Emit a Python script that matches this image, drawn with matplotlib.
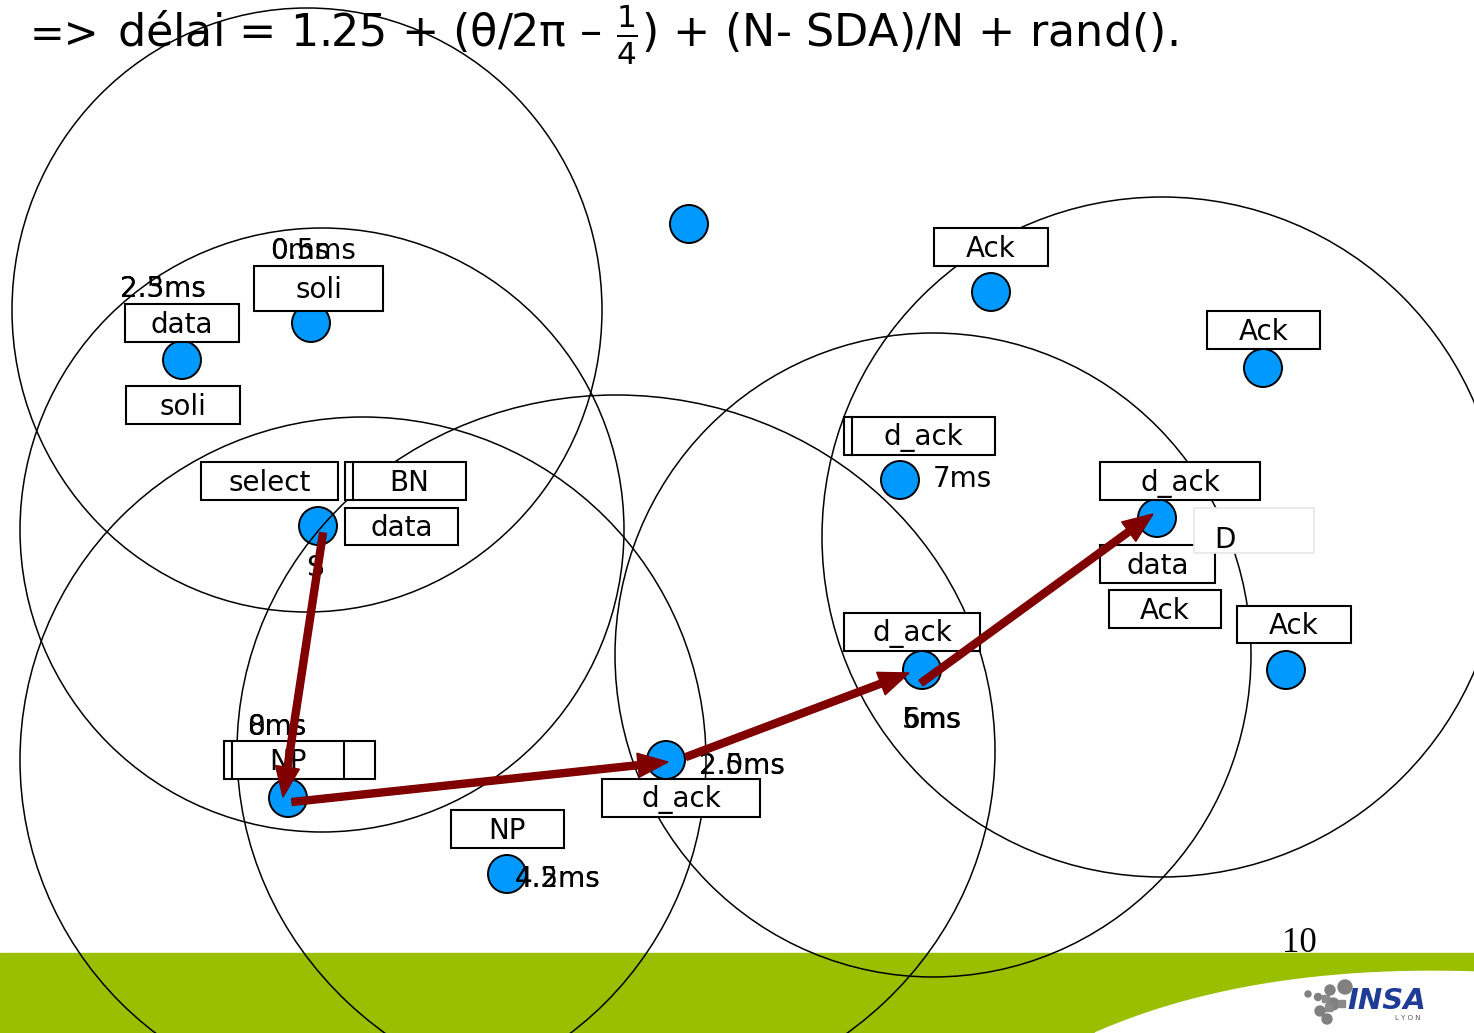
import numpy as np
import matplotlib.pyplot as plt
from matplotlib.patches import Ellipse, Rectangle, Circle, Polygon

plt.rcParams['font.family'] = ['DejaVu Sans']
plt.rcParams['mathtext.fontset'] = 'dejavusans'

# portées radio (ellipses) : centre et demi-axes, en pixels
range_cx = [307, 322, 363, 616, 933, 1162]
range_cy = [310, 530, 760, 751, 655, 537]
range_rx = [295, 302, 343, 379, 318, 340]
range_ry = [302, 302, 343, 356, 322, 340]

# noeuds
node_x = [689, 991, 1263, 311, 182, 318, 900, 1157, 922, 1286, 666, 288, 507]
node_y = [224, 292, 368, 323, 360, 526, 480, 518, 670, 670, 760, 798, 874]

# boites de messages
box_text = ["Ack", "Ack", "soli", "data", "soli", "select", "BN", "data", "d_ack",
            "d_ack", "data", "Ack", "Ack", "d_ack", "NP", "d_ack", "NP"]
box_x0 = [934, 1207, 254, 125, 126, 201, 345, 345, 844, 1100, 1100, 1109, 1237, 844, 224, 602, 451]
box_x1 = [1048, 1320, 383, 239, 240, 338, 466, 458, 995, 1260, 1215, 1221, 1351, 980, 375, 760, 564]
box_y0 = [228, 311, 266, 304, 386, 462, 462, 508, 417, 462, 545, 590, 606, 613, 741, 779, 810]
box_y1 = [266, 349, 311, 342, 424, 500, 500, 545, 455, 500, 583, 628, 643, 651, 779, 817, 848]
# doubles bordures (x, y0, y1)
inner_x = [353, 852, 232, 344]
inner_y0 = [462, 417, 741, 741]
inner_y1 = [500, 455, 779, 779]

# délais (textes superposés comme sur la diapo)
delay_text = ["0.5ms", "0ms", "2.5ms", "2.3ms", "8ms", "0ms", "2.5ms", "2.0ms",
              "4.5ms", "4.2ms", "5ms", "6ms", "7ms"]
delay_x = [270, 270, 120, 120, 247, 247, 699, 699, 515, 515, 902, 902, 933]
delay_y = [251, 251, 289, 289, 727, 727, 766, 766, 879, 879, 720, 720, 479]

# chemin S -> D
arrow_x0 = [323, 292, 686, 921]
arrow_y0 = [533, 802, 757, 683]
arrow_x1 = [283, 668, 909, 1153]
arrow_y1 = [797, 762, 673, 514]

fig = plt.figure(figsize=(14.74, 10.33), dpi=100)
ax = fig.add_axes([0, 0, 1, 1])
ax.set_xlim(0, 1474)
ax.set_ylim(1033, 0)
ax.axis('off')

# bandeau vert + vague blanche
ax.add_patch(Rectangle((0, 953), 1474, 80, color='#99bf00', zorder=0))
t = np.linspace(0, 1, 60)
px = (1 - t)**2 * 1095 + 2 * t * (1 - t) * 1250 + t**2 * 1474
py = (1 - t)**2 * 1033 + 2 * t * (1 - t) * 965 + t**2 * 972
pts = np.column_stack([np.append(px, 1474), np.append(py, 1033)])
ax.add_patch(Polygon(pts, closed=True, color='white', zorder=0.5))

# noeuds
for x, y in zip(node_x, node_y):
    ax.add_patch(Circle((x, y), 19, facecolor='#0099ff', edgecolor='black', lw=1.4, zorder=1))

# portées
for cx, cy, rx, ry in zip(range_cx, range_cy, range_rx, range_ry):
    ax.add_patch(Ellipse((cx, cy), 2 * rx, 2 * ry, fill=False, edgecolor='black', lw=1.1, zorder=2))

# boites
for txt, x0, x1, y0, y1 in zip(box_text, box_x0, box_x1, box_y0, box_y1):
    ax.add_patch(Rectangle((x0, y0), x1 - x0, y1 - y0, facecolor='white',
                           edgecolor='black', lw=1.5, zorder=3))
for x, y0, y1 in zip(inner_x, inner_y0, inner_y1):
    ax.plot([x, x], [y0, y1], color='black', lw=1.5, zorder=3.1)
for txt, x0, x1, y0, y1 in zip(box_text, box_x0, box_x1, box_y0, box_y1):
    cx = (x0 + x1) / 2
    if txt == "BN":
        cx = (353 + x1) / 2
    if x0 == 844 and y0 == 417:
        cx = (852 + x1) / 2
    if txt == "NP" and x0 == 224:
        cx = 288
    ax.text(cx, (y0 + y1) / 2 + 2, txt, fontsize=20, ha='center', va='center', zorder=4)

# boite D
ax.add_patch(Rectangle((1194, 508), 120, 45, facecolor='white', edgecolor='#e6e6e6', lw=1.2, zorder=3))
ax.text(1214, 540, "D", fontsize=20, ha='left', va='center', zorder=4)
ax.text(315, 568, "S", fontsize=20, ha='center', va='center', zorder=4)

for txt, x, y in zip(delay_text, delay_x, delay_y):
    ax.text(x, y, txt, fontsize=20, ha='left', va='center', zorder=4)

# flèches
for x0, y0, x1, y1 in zip(arrow_x0, arrow_y0, arrow_x1, arrow_y1):
    ax.arrow(x0, y0, x1 - x0, y1 - y0, width=7, head_width=24, head_length=30,
             length_includes_head=True, color='#800000', zorder=5)

# titre
ax.text(30, 35, "=>", fontsize=30, ha='left', va='center')
ax.text(117, 35, r"délai = 1.25 + (θ/2π – $\frac{1}{4}$) + (N- SDA)/N + rand().",
        fontsize=32, ha='left', va='center')

# numéro de page
ax.text(1282, 952, "10", fontsize=25, family='Liberation Serif', ha='left', va='baseline')

# logo INSA
for x, y, r in [(1308, 994, 3), (1318, 997, 3.5), (1330, 990, 5), (1345, 987, 7),
                (1333, 1004, 6), (1320, 1011, 5), (1327, 1019, 5)]:
    ax.add_patch(Circle((x, y), r, color='#808080', zorder=6))
for x, y in [(1322, 995), (1338, 1000), (1325, 1004)]:
    ax.add_patch(Rectangle((x, y), 7, 7, color='#8a8a8a', zorder=6))
ax.text(1347, 1001, "INSA", fontsize=21, fontweight='bold', fontstyle='italic',
        color='#1f3c96', ha='left', va='center', zorder=6)
ax.text(1408, 1018, "L Y O N", fontsize=5, color='#555555', ha='center', va='center', zorder=6)

fig.savefig('out.png', dpi=100)
